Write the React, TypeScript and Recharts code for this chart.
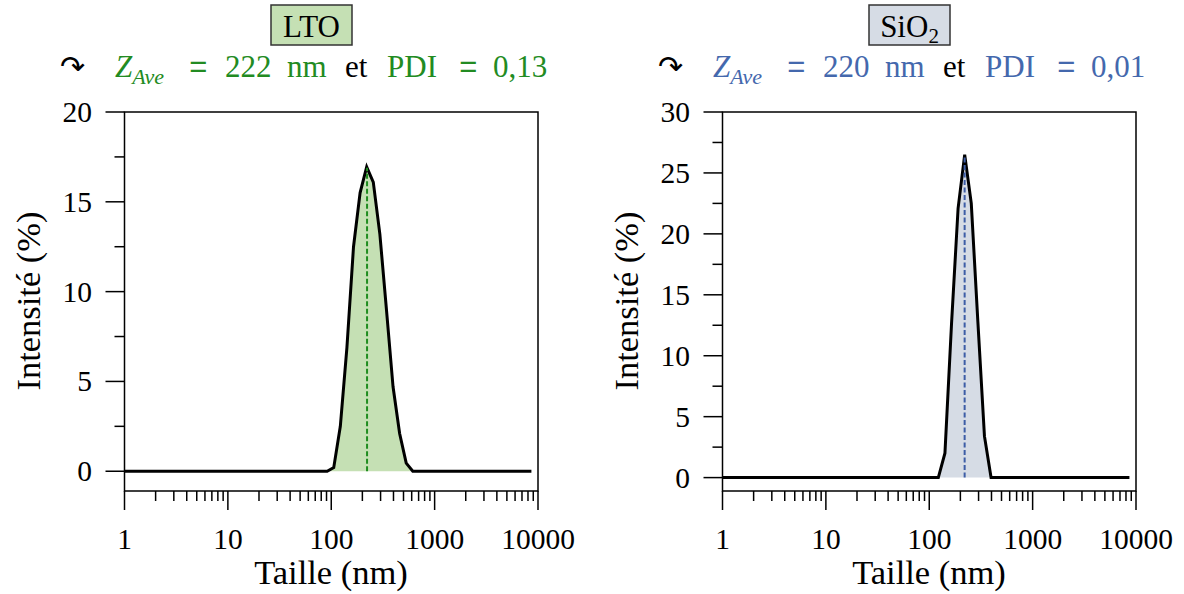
import React from "react";
import { ComposedChart, Area, XAxis, YAxis, ReferenceArea, ReferenceLine } from "recharts";

// DLS size classes (nm), log-spaced bins
const SIZES = [
  0.4, 0.4632, 0.5365, 0.6213, 0.7195, 0.8332, 0.9649, 1.117, 1.294, 1.499,
  1.736, 2.01, 2.328, 2.696, 3.122, 3.615, 4.187, 4.849, 5.615, 6.503,
  7.531, 8.721, 10.1, 11.7, 13.54, 15.69, 18.17, 21.04, 24.36, 28.21,
  32.67, 37.84, 43.82, 50.75, 58.77, 68.06, 78.82, 91.28, 105.7, 122.4,
  141.8, 164.2, 190.1, 220.2, 255.0, 295.3, 342.0, 396.1, 458.7, 531.2,
  615.1, 712.4, 825.0, 955.4, 1106, 1281, 1484, 1718, 1990, 2305,
  2669, 3091, 3580, 4145, 4801, 5560, 6439, 7456, 8635,
];

const LTO_INTENSITY = [
  0, 0, 0, 0, 0, 0, 0, 0, 0, 0,
  0, 0, 0, 0, 0, 0, 0, 0, 0, 0,
  0, 0, 0, 0, 0, 0, 0, 0, 0, 0,
  0, 0, 0, 0, 0, 0, 0, 0, 0.2, 2.5,
  6.9, 12.5, 15.5, 16.95, 16.1, 13.2, 9.0, 4.7, 2.1, 0.45,
  0, 0, 0, 0, 0, 0, 0, 0, 0, 0,
  0, 0, 0, 0, 0, 0, 0, 0, 0,
];

const SIO2_INTENSITY = [
  0, 0, 0, 0, 0, 0, 0, 0, 0, 0,
  0, 0, 0, 0, 0, 0, 0, 0, 0, 0,
  0, 0, 0, 0, 0, 0, 0, 0, 0, 0,
  0, 0, 0, 0, 0, 0, 0, 0, 0, 0,
  2.0, 12.6, 22.1, 26.5, 22.5, 12.8, 3.4, 0, 0, 0,
  0, 0, 0, 0, 0, 0, 0, 0, 0, 0,
  0, 0, 0, 0, 0, 0, 0, 0, 0,
];

const X_MAJOR = [1, 10, 100, 1000, 10000];
const X_MINOR = [
  2, 3, 4, 5, 6, 7, 8, 9,
  20, 30, 40, 50, 60, 70, 80, 90,
  200, 300, 400, 500, 600, 700, 800, 900,
  2000, 3000, 4000, 5000, 6000, 7000, 8000, 9000,
];
const LTO_Y_TICKS = [0, 2.5, 5, 7.5, 10, 12.5, 15, 17.5, 20];
const SIO2_Y_TICKS = [0, 2.5, 5, 7.5, 10, 12.5, 15, 17.5, 20, 22.5, 25, 27.5, 30];

const Z_AVE = [222, 220];
const PDI = ["0,13", "0,01"];

const W = 598;
const H = 594;
const SERIF = "'Liberation Serif', 'Times New Roman', serif";
const MAJOR_LEN = 19;
const MINOR_LEN = 10;

// curve height at the Z-average (log interpolation)
function heightAt(z: number, values: number[]) {
  for (let i = 0; i < SIZES.length - 1; i++) {
    if (z >= SIZES[i] && z <= SIZES[i + 1]) {
      const t = (Math.log(z) - Math.log(SIZES[i])) / (Math.log(SIZES[i + 1]) - Math.log(SIZES[i]));
      return values[i] + t * (values[i + 1] - values[i]);
    }
  }
  return 0;
}

function XTick(props: any) {
  const { x, y, payload } = props;
  const v = payload.value;
  const major = X_MAJOR.includes(v);
  const y0 = y - MAJOR_LEN;
  return (
    <g>
      <line x1={x} x2={x} y1={y0} y2={y0 + (major ? MAJOR_LEN : MINOR_LEN)} stroke="#000" strokeWidth={1.5} />
      {major && (
        <text x={x} y={y0 + 58} textAnchor="middle" fontFamily={SERIF} fontSize={29.5} fill="#000">
          {v}
        </text>
      )}
    </g>
  );
}

function YTick(props: any) {
  const { x, y, payload } = props;
  const v = payload.value;
  const major = v % 5 === 0;
  const x0 = x + MAJOR_LEN;
  return (
    <g>
      <line x1={x0 - (major ? MAJOR_LEN : MINOR_LEN)} x2={x0} y1={y} y2={y} stroke="#000" strokeWidth={1.5} />
      {major && (
        <text x={x0 - 32.5} y={y} dy="0.34em" textAnchor="end" fontFamily={SERIF} fontSize={29.5} fill="#000">
          {v}
        </text>
      )}
    </g>
  );
}

function Panel({
  values, yTicks, fill, accent, dash, title, zAve, pdi,
}: {
  values: number[]; yTicks: number[]; fill: string; accent: string; dash: string;
  title: React.ReactNode; zAve: number; pdi: string;
}) {
  const data = SIZES.map((s, i) => ({ size: s, v: values[i] }));
  const yMax = yTicks[yTicks.length - 1];
  const yMin = -1.1;
  const zTop = heightAt(zAve, values);
  return (
    <div style={{ position: "relative", width: W, height: H }}>
      <ComposedChart width={W} height={H} data={data} margin={{ top: 112, right: 60, bottom: 53, left: 64.5 }}>
        <XAxis
          dataKey="size" type="number" scale="log" domain={[1, 10000]} allowDataOverflow
          ticks={[...X_MAJOR, ...X_MINOR]} interval={0} height={50}
          tick={(p: any) => <XTick {...p} />} tickLine={false} axisLine={false} tickSize={MAJOR_LEN} tickMargin={0}
        />
        <YAxis
          type="number" domain={[yMin, yMax]} allowDataOverflow ticks={yTicks} interval={0} width={60}
          tick={(p: any) => <YTick {...p} />} tickLine={false} axisLine={false} tickSize={MAJOR_LEN} tickMargin={0}
        />
        <Area
          type="linear" dataKey="v" baseValue={0} fill={fill} fillOpacity={1}
          stroke="#000" strokeWidth={3} isAnimationActive={false} dot={false} activeDot={false}
        />
        <ReferenceLine
          segment={[{ x: zAve, y: 0 }, { x: zAve, y: zTop }]}
          stroke={dash} strokeWidth={2} strokeDasharray="5 2.5"
        />
        <ReferenceArea x1={1} x2={10000} y1={yMin} y2={yMax} fill="none" fillOpacity={0} stroke="#000" strokeWidth={1.5} />
      </ComposedChart>
      <svg width={W} height={H} style={{ position: "absolute", left: 0, top: 0, pointerEvents: "none" }}>
        <rect x={271} y={5} width={81} height={40} fill={fill} stroke="#333" strokeWidth={1.5} />
        <text x={311.5} y={37} textAnchor="middle" fontFamily={SERIF} fontSize={31} fill="#000">
          {title}
        </text>
        <text y={77} fontFamily={SERIF} fontSize={31}>
          <tspan x={60} fontFamily="'DejaVu Sans', sans-serif" fontSize={30} fill="#000">↷</tspan>
          <tspan x={115} fill={accent} fontStyle="italic">Z</tspan>
          <tspan fill={accent} fontStyle="italic" fontSize={22} dy={7}>Ave</tspan>
          <tspan x={189} dy={-7} fill={accent} fontFamily="'Liberation Mono', monospace">=</tspan>
          <tspan x={225} fill={accent}>{zAve}</tspan>
          <tspan x={287} fill={accent}>nm</tspan>
          <tspan x={345} fill="#000">et</tspan>
          <tspan x={387} fill={accent}>PDI</tspan>
          <tspan x={459} fill={accent} fontFamily="'Liberation Mono', monospace">=</tspan>
          <tspan x={493} fill={accent}>{pdi}</tspan>
        </text>
        <text x={331} y={584} textAnchor="middle" fontFamily={SERIF} fontSize={34.5} fill="#000">
          Taille (nm)
        </text>
        <text
          x={0} y={0} transform="translate(40 301) rotate(-90)" textAnchor="middle"
          fontFamily={SERIF} fontSize={34.5} fill="#000"
        >
          Intensité (%)
        </text>
      </svg>
    </div>
  );
}

export default function App() {
  return (
    <div style={{ position: "absolute", left: 0, top: 0, width: 1184, height: 594, background: "#fff", display: "flex" }}>
      <Panel
        values={LTO_INTENSITY} yTicks={LTO_Y_TICKS} fill="#c5e0b4" accent="#228b22" dash="#1e8c1e"
        title="LTO" zAve={Z_AVE[0]} pdi={PDI[0]}
      />
      <Panel
        values={SIO2_INTENSITY} yTicks={SIO2_Y_TICKS} fill="#d6dce5" accent="#4468ad" dash="#3d5da6"
        title={<>SiO<tspan fontSize={21} dy={6}>2</tspan></>} zAve={Z_AVE[1]} pdi={PDI[1]}
      />
    </div>
  );
}
